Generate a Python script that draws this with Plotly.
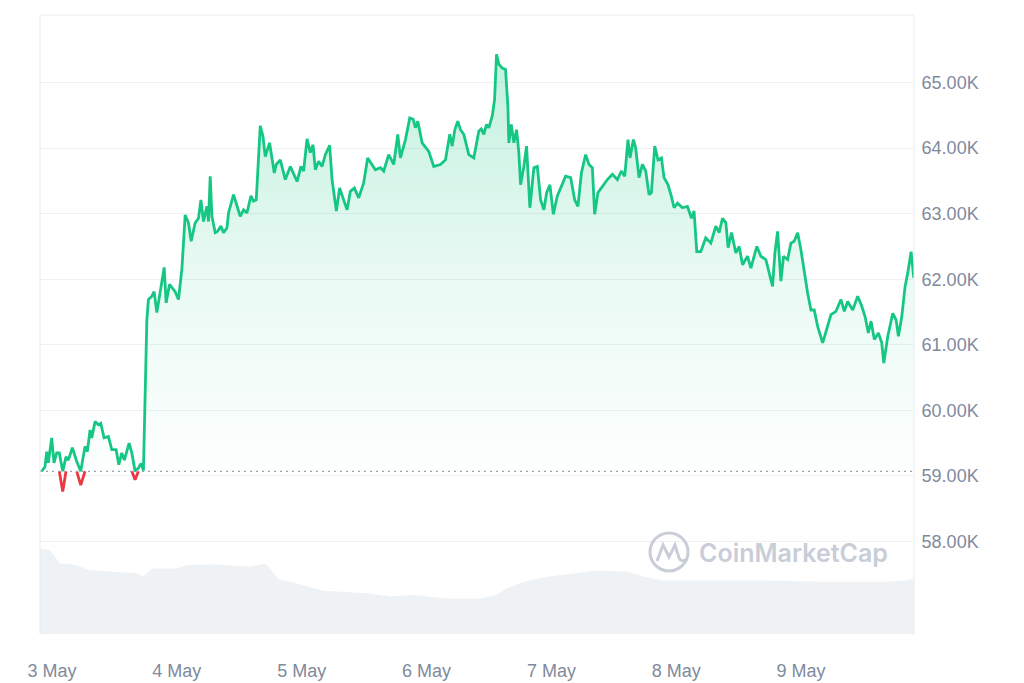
import numpy as np
import pandas as pd
import plotly.graph_objects as go

# BTC price, hours counted from 3 May 2024 00:00
price_hours = [
    -1.98, -1.35, -1.02, -0.71, -0.06, 0.38, 0.90, 1.40, 2.06, 2.69,
    3.14, 3.91, 4.75, 5.52, 6.35, 6.79, 7.31, 7.64, 8.28, 8.91,
    9.37, 10.01, 10.84, 11.49, 12.32, 12.84, 13.41, 13.91, 14.82, 15.34,
    15.97, 16.61, 17.13, 17.57, 18.23, 18.53, 19.19, 19.63, 20.15, 20.92,
    21.56, 21.94, 22.58, 23.67, 24.31, 24.96, 25.60, 26.23, 26.75, 27.52,
    28.16, 28.62, 29.12, 29.77, 30.08, 30.41, 30.74, 31.37, 31.81, 32.47,
    32.97, 33.62, 33.93, 34.89, 35.41, 36.18, 36.82, 37.47, 38.24, 38.74,
    39.26, 39.59, 40.03, 40.55, 40.99, 41.82, 42.73, 43.11, 43.88, 44.84,
    45.81, 47.10, 47.86, 48.37, 49.02, 49.65, 50.17, 50.62, 51.25, 51.91,
    52.54, 53.37, 53.83, 54.66, 55.29, 56.06, 56.72, 57.35, 58.12, 58.95,
    59.91, 60.68, 61.53, 62.16, 63.13, 63.76, 64.72, 65.69, 66.46, 66.98,
    67.94, 68.77, 69.42, 69.86, 70.31, 71.15, 72.42, 73.38, 74.67, 75.64,
    76.46, 76.93, 77.43, 78.00, 78.52, 79.16, 80.12, 81.08, 82.05, 82.51,
    83.01, 83.53, 83.97, 84.63, 85.07, 85.45, 85.90, 86.55, 87.18, 87.63,
    87.82, 88.28, 88.78, 89.30, 89.74, 90.07, 90.70, 91.22, 91.86, 92.63,
    93.29, 93.92, 94.56, 95.08, 95.71, 96.37, 97.14, 98.10, 98.73, 99.70,
    100.47, 101.10, 101.76, 102.58, 103.22, 103.87, 104.31, 104.95, 105.79, 106.76,
    107.72, 108.68, 109.45, 110.09, 110.72, 111.11, 111.76, 112.20, 112.84, 113.49,
    114.13, 114.76, 115.22, 115.86, 116.49, 117.15, 117.65, 118.42, 119.07, 119.58,
    120.23, 121.19, 122.15, 122.93, 123.42, 123.94, 124.71, 125.67, 126.64, 127.60,
    128.24, 128.89, 129.53, 129.97, 130.62, 131.45, 132.09, 132.74, 133.70, 134.34,
    135.49, 136.26, 137.22, 137.86, 138.51, 138.96, 139.48, 140.11, 140.63, 141.40,
    142.04, 142.67, 143.33, 143.96, 144.60, 145.25, 145.89, 146.52, 147.18, 148.14,
    148.78, 149.74, 150.70, 151.66, 152.30, 152.95, 153.92, 154.88, 155.65, 156.29,
    156.92, 157.44, 158.08, 158.85, 159.50, 159.89, 160.66, 161.62, 162.26, 162.70,
    163.35, 163.99, 164.51, 165.14, 165.66,
]
prices = [
    59070, 59140, 59370, 59200, 59580, 59200, 59350, 59350, 58760, 59290,
    59240, 59430, 59220, 58860, 59450, 59370, 59700, 59580, 59830, 59780,
    59800, 59580, 59600, 59400, 59400, 59170, 59350, 59240, 59500, 59350,
    58940, 59120, 59190, 59080, 61380, 61690, 61740, 61810, 61490, 61840,
    62180, 61640, 61920, 61810, 61690, 62150, 62980, 62860, 62580, 62860,
    62930, 63210, 62880, 63110, 62880, 63570, 62960, 62710, 62730, 62810,
    62710, 62780, 63010, 63290, 63160, 62960, 63060, 63010, 63270, 63190,
    63210, 63720, 64340, 64180, 63870, 64080, 63620, 63750, 63820, 63520,
    63720, 63490, 63720, 63650, 64140, 63930, 64050, 63670, 63800, 63720,
    63900, 64040, 63520, 63040, 63390, 63210, 63060, 63340, 63390, 63240,
    63470, 63850, 63750, 63670, 63700, 63650, 63900, 63750, 64210, 63850,
    64130, 64460, 64440, 64310, 64410, 64080, 63950, 63720, 63750, 63820,
    64210, 64030, 64280, 64410, 64280, 64210, 63900, 63850, 64260, 64290,
    64210, 64360, 64310, 64490, 64740, 65430, 65280, 65220, 65200, 64640,
    64080, 64360, 64080, 64280, 63930, 63440, 63720, 64030, 63090, 63700,
    63720, 63210, 63060, 63320, 63440, 62990, 63270, 63440, 63570, 63550,
    63210, 63110, 63620, 63900, 63750, 63700, 62990, 63320, 63420, 63520,
    63600, 63520, 63650, 63570, 64130, 63850, 64130, 64000, 63550, 63750,
    63650, 63290, 63320, 64030, 63820, 63850, 63550, 63440, 63260, 63090,
    63160, 63090, 63110, 62930, 63040, 62420, 62420, 62630, 62550, 62810,
    62710, 62930, 62860, 62480, 62710, 62400, 62500, 62220, 62350, 62170,
    62500, 62350, 62300, 62100, 61890, 62400, 62730, 61970, 62350, 62300,
    62550, 62580, 62710, 62450, 62100, 61790, 61530, 61530, 61280, 61030,
    61200, 61460, 61510, 61690, 61510, 61660, 61530, 61740, 61590, 61430,
    61180, 61360, 61080, 61180, 61030, 60720, 61130, 61480, 61380, 61130,
    61430, 61890, 62100, 62420, 62020,
]

# 24h volume (billions USD), same hour reference
vol_hours = [-2.31, -0.38, 1.54, 4.75, 6.99, 11.80, 16.30, 17.57, 19.19, 24.00,
             25.92, 31.04, 38.11, 40.99, 41.63, 43.55, 46.44, 50.29, 52.21, 60.57,
             65.05, 69.54, 75.96, 82.37, 85.26, 87.51, 90.71, 95.21, 100.33, 104.83,
             110.61, 113.80, 117.01, 122.15, 134.97, 147.81, 160.64, 164.49, 165.70]
volumes = [27.7, 27.1, 22.8, 22.3, 20.7, 20.1, 19.6, 18.5, 21.2, 21.2,
           22.3, 22.5, 21.7, 22.8, 21.7, 17.7, 16.6, 14.8, 14.0, 13.2,
           12.1, 12.6, 11.5, 11.5, 12.6, 14.8, 16.9, 18.5, 19.6, 20.5,
           20.1, 18.5, 17.4, 17.4, 17.4, 16.9, 16.9, 17.4, 17.7]

y_ticks = [58000, 59000, 60000, 61000, 62000, 63000, 64000, 65000]
day_ticks = ["2024-05-03", "2024-05-04", "2024-05-05", "2024-05-06",
             "2024-05-07", "2024-05-08", "2024-05-09"]

GREEN = "#16c784"
RED = "#ea3943"
GRID = "#eef1f5"
LABEL = "#808a9d"

base_day = pd.Timestamp("2024-05-03")
t_price = base_day + pd.to_timedelta(price_hours, unit="h")
t_vol = base_day + pd.to_timedelta(vol_hours, unit="h")

p = np.array(prices, dtype=float)
open_price = p[0]
above = np.maximum(p, open_price)
below_flag = p < open_price
near = below_flag | np.roll(below_flag, 1) | np.roll(below_flag, -1)
near[0] = below_flag[0] or below_flag[1]
near[-1] = below_flag[-1] or below_flag[-2]
red_y = np.where(near, np.minimum(p, open_price), np.nan)

fig = go.Figure()

# volume area at the bottom
fig.add_trace(go.Scatter(x=t_vol, y=volumes, yaxis="y2", mode="lines",
                         line=dict(width=0, color="#eff2f5"), fill="tozeroy",
                         fillcolor="#eff2f5", hoverinfo="skip"))

# baseline for the fill
fig.add_trace(go.Scatter(x=t_price, y=[open_price] * len(p), mode="lines",
                         line=dict(width=0, color="rgba(0,0,0,0)"), hoverinfo="skip"))

fig.add_trace(go.Scatter(
    x=t_price, y=above, mode="lines", line=dict(color=GREEN, width=2.8),
    fill="tonexty",
    fillgradient=dict(type="vertical", colorscale=[
        [0.0, "rgba(22,199,132,0.01)"], [0.45, "rgba(22,199,132,0.09)"],
        [1.0, "rgba(22,199,132,0.26)"]]),
))

fig.add_trace(go.Scatter(x=t_price, y=red_y, mode="lines",
                         line=dict(color=RED, width=2.8), connectgaps=False))

# dotted open-price line
fig.add_shape(type="line", xref="paper", x0=0, x1=1, yref="y", y0=open_price, y1=open_price,
              line=dict(color="#9aa3b2", width=1.3, dash="2px,4px"), layer="above")

# frame (top, left, right)
for x0, y0, x1, y1 in [(0, 1, 1, 1), (0, 0, 0, 1), (1, 0, 1, 1)]:
    fig.add_shape(type="line", xref="paper", yref="paper", x0=x0, y0=y0, x1=x1, y1=y1,
                  line=dict(color="#e9ecf0", width=1))

# watermark
fig.add_shape(type="circle", xref="paper", yref="paper", xsizemode="pixel", ysizemode="pixel",
              xanchor=0.7197, yanchor=0.1326, x0=-19, x1=19, y0=-19, y1=19,
              line=dict(color="#c8cdd7", width=3), layer="above")
fig.add_shape(type="path", xref="paper", yref="paper", xsizemode="pixel", ysizemode="pixel",
              xanchor=0.7197, yanchor=0.1326,
              path="M -12,-9 L -6,7 L 0,-5 L 6,7 L 10,-6 Q 12,-11 18,-7",
              line=dict(color="#c8cdd7", width=3), layer="above")
fig.add_annotation(text="CoinMarketCap", xref="paper", yref="paper", x=0.8627, y=0.131,
                   xanchor="center", yanchor="middle", showarrow=False,
                   font=dict(family="Inter", size=25, color="#c8cdd7", weight=600))

fig.update_layout(
    width=1024, height=683,
    margin=dict(l=32, r=118, t=7, b=57),
    paper_bgcolor="white", plot_bgcolor="white",
    showlegend=False,
    font=dict(family="Liberation Sans", size=18, color=LABEL),
    xaxis=dict(type="date", range=[t_vol[0], t_vol[-1]], showgrid=False, zeroline=False,
               tickvals=day_ticks, tickformat="%-d %b", ticks="outside", ticklen=20,
               tickcolor="rgba(0,0,0,0)", showline=False, automargin=False),
    yaxis=dict(side="right", range=[56588, 66030], tickvals=y_ticks,
               ticktext=[f"{v / 1000:.2f}K" for v in y_ticks], showgrid=True,
               gridcolor=GRID, gridwidth=1, zeroline=False, ticks="outside", ticklen=3,
               tickcolor="rgba(0,0,0,0)", automargin=False),
    yaxis2=dict(overlaying="y", range=[0, 200], visible=False),
)

fig.write_html("out.html")
